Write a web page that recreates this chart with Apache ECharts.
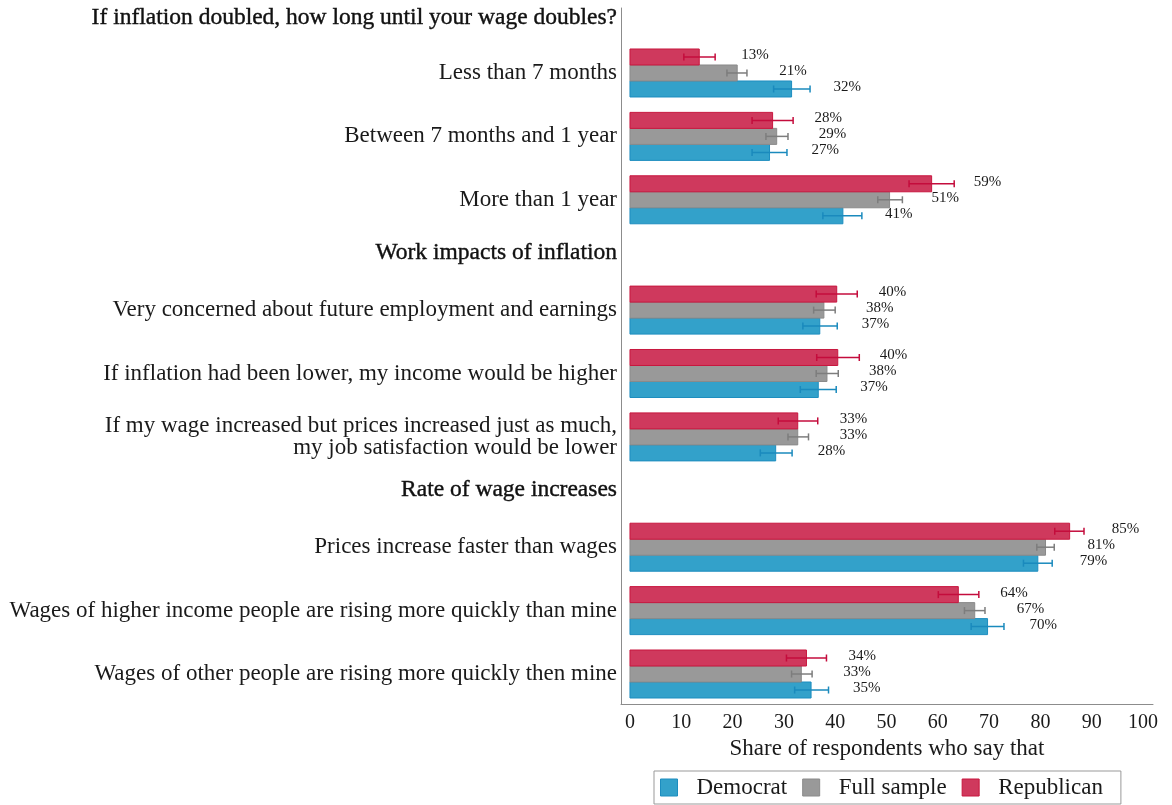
<!DOCTYPE html>
<html>
<head>
<meta charset="utf-8">
<script src="https://cdn.jsdelivr.net/npm/echarts@6/dist/echarts.min.js"></script>
<style>
  html, body { margin: 0; padding: 0; background: #fff; }
  #chart { width: 1172px; height: 805px; }
</style>
</head>
<body>
<div id="chart"></div>
<script>
// rows of the y axis, top to bottom (headers included)
const rows = [
  'If inflation doubled, how long until your wage doubles?',
  'Less than 7 months',
  'Between 7 months and 1 year',
  'More than 1 year',
  'Work impacts of inflation',
  'Very concerned about future employment and earnings',
  'If inflation had been lower, my income would be higher',
  'If my wage increased but prices increased just as much,\nmy job satisfaction would be lower',
  'Rate of wage increases',
  'Prices increase faster than wages',
  'Wages of higher income people are rising more quickly than mine',
  'Wages of other people are rising more quickly then mine'
]
const isHeader = [true, false, false, false, true, false, false, false, true, false, false, false]

// Democrat
const demValue = [31.5, 27.2, 41.5, 37.0, 36.7, 28.4, 79.5, 69.7, 35.3]
const demLow = [28.0, 23.8, 37.6, 33.7, 33.2, 25.4, 76.7, 66.5, 32.1]
const demHigh = [35.1, 30.6, 45.2, 40.4, 40.2, 31.6, 82.3, 72.9, 38.7]
const demLabel = [32, 27, 41, 37, 37, 28, 79, 70, 35]

// Full sample
const fullValue = [20.9, 28.6, 50.6, 37.8, 38.4, 32.7, 81.0, 67.2, 33.4]
const fullLow = [18.9, 26.5, 48.3, 35.8, 36.3, 30.8, 79.3, 65.2, 31.5]
const fullHigh = [22.8, 30.8, 53.1, 40.0, 40.6, 34.8, 82.7, 69.2, 35.5]
const fullLabel = [21, 29, 51, 38, 38, 33, 81, 67, 33]

// Republican
const repValue = [13.5, 27.8, 58.8, 40.3, 40.5, 32.7, 85.7, 64.0, 34.4]
const repLow = [10.5, 23.8, 54.4, 36.3, 36.4, 28.9, 82.8, 60.1, 30.5]
const repHigh = [16.6, 31.8, 63.2, 44.3, 44.7, 36.6, 88.5, 68.0, 38.3]
const repLabel = [13, 28, 59, 40, 40, 33, 85, 64, 34]

const xTicks = [0, 10, 20, 30, 40, 50, 60, 70, 80, 90, 100]

const FONT = "'Liberation Serif', 'Times New Roman', serif"
const TEXT = '#1a1a1a'

// header rows sit a bit closer to their neighbours than item rows
const rowPos = []
let p = 0
rows.forEach((r, i) => {
  if (i > 0) p += isHeader[i] ? 0.84 : (isHeader[i - 1] ? 0.9 : 1)
  rowPos.push(Math.round(p * 100) / 100)
})
const itemPos = rowPos.filter((v, i) => !isHeader[i])

function makeData(value, low, high, label) {
  return value.map((v, i) => [v, itemPos[i], low[i], high[i], label[i]])
}

// bar + error bar + value label, offset is the pixel shift of the bar inside the group
function barRenderer(offset, fill, stroke, errColor) {
  return function (params, api) {
    const pos = api.value(1)
    const start = api.coord([0, pos])
    const end = api.coord([api.value(0), pos])
    const lo = api.coord([api.value(2), pos])
    const hi = api.coord([api.value(3), pos])
    const yc = start[1] + offset
    const h = 16
    return {
      type: 'group',
      children: [
        {
          type: 'rect',
          shape: { x: start[0], y: yc - h / 2, width: end[0] - start[0], height: h },
          style: { fill: fill, stroke: stroke, lineWidth: 1 }
        },
        {
          type: 'line',
          shape: { x1: lo[0], y1: yc, x2: hi[0], y2: yc },
          style: { stroke: errColor, lineWidth: 1.5 }
        },
        {
          type: 'line',
          shape: { x1: lo[0], y1: yc - 3.5, x2: lo[0], y2: yc + 3.5 },
          style: { stroke: errColor, lineWidth: 1.5 }
        },
        {
          type: 'line',
          shape: { x1: hi[0], y1: yc - 3.5, x2: hi[0], y2: yc + 3.5 },
          style: { stroke: errColor, lineWidth: 1.5 }
        },
        {
          type: 'text',
          x: end[0] + 42,
          y: yc - 2,
          style: {
            text: api.value(4) + '%',
            fontFamily: FONT,
            fontSize: 15,
            fill: TEXT,
            align: 'left',
            verticalAlign: 'middle'
          }
        }
      ]
    }
  }
}

const parties = [
  { name: 'Democrat', fill: '#33a1ca', stroke: '#1d8dbf', err: '#1a8abd', offset: 16, data: makeData(demValue, demLow, demHigh, demLabel) },
  { name: 'Full sample', fill: '#999999', stroke: '#8a8a8a', err: '#7d7d7d', offset: 0, data: makeData(fullValue, fullLow, fullHigh, fullLabel) },
  { name: 'Republican', fill: '#cf395d', stroke: '#c8173f', err: '#c40c3c', offset: -16, data: makeData(repValue, repLow, repHigh, repLabel) }
]

const option = {
  animation: false,
  backgroundColor: '#fff',
  grid: {
    left: 621,
    top: 8,
    width: 532,
    height: 696
  },
  xAxis: {
    type: 'value',
    min: -1.75,
    max: 101.95,
    name: 'Share of respondents who say that',
    nameLocation: 'middle',
    nameGap: 30,
    nameTextStyle: { fontFamily: FONT, fontSize: 23, color: TEXT },
    axisLine: { show: true, onZero: false, lineStyle: { color: '#8c8c8c', width: 1 } },
    axisTick: { show: false },
    splitLine: { show: false },
    axisLabel: {
      customValues: xTicks,
      fontFamily: FONT,
      fontSize: 20,
      color: TEXT,
      margin: 9
    }
  },
  yAxis: {
    type: 'value',
    inverse: true,
    min: -0.125,
    max: 10.853,
    axisLine: { show: true, onZero: false, lineStyle: { color: '#8c8c8c', width: 1 } },
    axisTick: { show: false },
    splitLine: { show: false },
    axisLabel: {
      customValues: rowPos,
      margin: 4,
      formatter: function (val) {
        let idx = 0
        rowPos.forEach((v, i) => { if (Math.abs(v - val) < Math.abs(rowPos[idx] - val)) idx = i })
        const tag = isHeader[idx] ? (idx === 0 ? 't' : 'h') : 'n'
        return rows[idx].split('\n').map(l => '{' + tag + '|' + l + '}').join('\n')
      },
      rich: {
        n: { fontFamily: FONT, fontSize: 23, color: TEXT, lineHeight: 22, align: 'right' },
        h: { fontFamily: FONT, fontSize: 23.5, color: '#111', lineHeight: 22, align: 'right', textBorderColor: '#111', textBorderWidth: 0.4 },
        t: { fontFamily: FONT, fontSize: 23.5, color: '#111', lineHeight: 22, align: 'right', textBorderColor: '#111', textBorderWidth: 0.4, padding: [4, 0, 0, 0] }
      }
    }
  },
  legend: {
    left: 654,
    top: 771,
    selectedMode: false,
    icon: 'rect',
    itemWidth: 17,
    itemHeight: 17,
    itemGap: 15,
    padding: [5, 18, 5, 6],
    borderColor: '#999',
    borderWidth: 1,
    textStyle: { fontFamily: FONT, fontSize: 23, color: TEXT, padding: [0, 0, 0, 14] },
    data: parties.map(s => ({ name: s.name, itemStyle: { color: s.fill, borderColor: s.stroke, borderWidth: 1 } }))
  },
  series: parties.map(s => ({
    name: s.name,
    type: 'custom',
    renderItem: barRenderer(s.offset, s.fill, s.stroke, s.err),
    encode: { x: 0, y: 1 },
    itemStyle: { color: s.fill },
    data: s.data
  }))
}

const chart = echarts.init(document.getElementById('chart'))
chart.setOption(option)
window.onresize = function () {
  chart.resize()
}
</script>
</body>
</html>
